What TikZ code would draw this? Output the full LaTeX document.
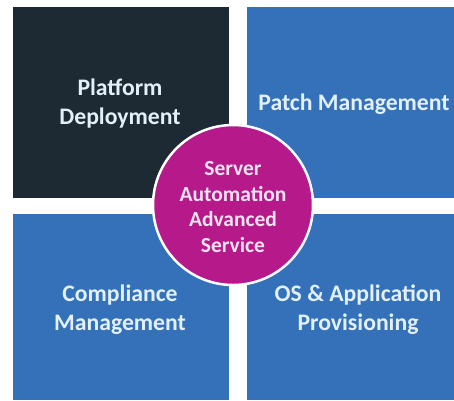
\documentclass[tikz,border=0pt]{standalone}
\usepackage{fontspec}
\setmainfont{Carlito}
\definecolor{darktile}{HTML}{1E2A33}
\definecolor{bluetile}{HTML}{3471B9}
\definecolor{hub}{HTML}{B5198A}
\definecolor{tiletext}{HTML}{E2F0FA}
\definecolor{hubtext}{HTML}{F6E2F0}
\begin{document}
\begin{tikzpicture}[x=1pt,y=-1pt,
  label/.style={text=tiletext,font=\bfseries\fontsize{23.7}{29}\selectfont,align=center,inner sep=0pt},
  hublabel/.style={text=hubtext,font=\bfseries\fontsize{21.5}{25.7}\selectfont,align=center,inner sep=0pt}]
  \useasboundingbox[fill=white] (0,0) rectangle (454,400);
  % four quadrant tiles
  \fill[darktile] (13,7) rectangle (229,198);
  \fill[bluetile] (247,7) rectangle (454,198);
  \fill[bluetile] (13,214) rectangle (229,400);
  \fill[bluetile] (247,214) rectangle (454,400);
  % tile captions
  \node[label] (pd) at (120,104) {Platform\\Deployment};
  \node[label] (pm) at (354,104) {Patch Management};
  \node[label] (cm) at (120,310) {Compliance\\Management};
  \node[label] (oa) at (358,310) {OS \& Application\\Provisioning};
  % central hub
  \node[circle,fill=hub,draw=white,line width=2.5pt,minimum size=160pt,inner sep=0pt] (hubc) at (233,205) {};
  \node[hublabel] (hubt) at (233,207) {Server\\Automation\\Advanced\\Service};
\end{tikzpicture}
\end{document}
